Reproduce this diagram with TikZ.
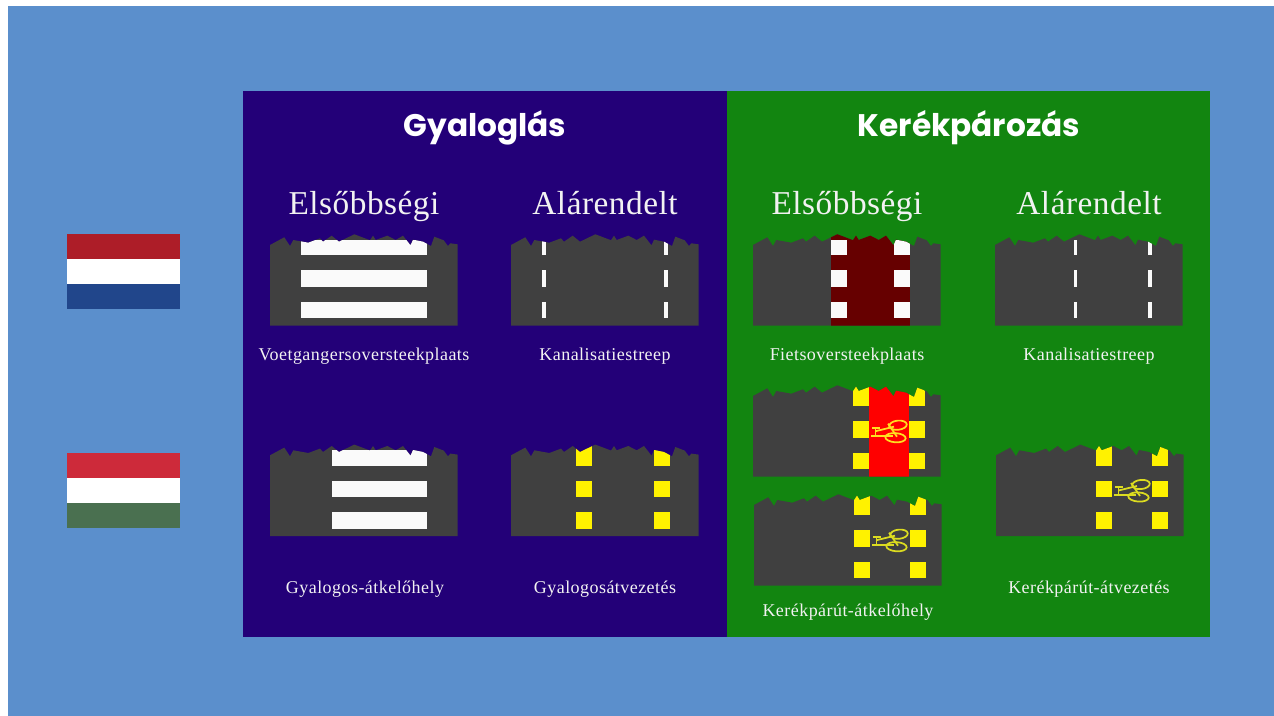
\documentclass[tikz,border=0pt]{standalone}
\usepackage{fontspec}
\setmainfont{Liberation Serif}
\newfontfamily\titlefont{Poppins}
\newfontfamily\subfont[LetterSpace=1.5]{Liberation Serif}
\newfontfamily\labfont[LetterSpace=2.5]{Liberation Serif}
\definecolor{bgblue}{HTML}{5B8FCC}
\definecolor{panelblue}{HTML}{230078}
\definecolor{panelgreen}{HTML}{128510}
\definecolor{roadgrey}{HTML}{404040}
\definecolor{paint}{HTML}{FAFAFA}
\definecolor{nlred}{HTML}{AD1D28}
\definecolor{nlblue}{HTML}{21468B}
\definecolor{hured}{HTML}{CD2A3A}
\definecolor{hugreen}{HTML}{4A7050}
\definecolor{dkred}{HTML}{660000}
\definecolor{bikeA}{HTML}{FFDF20}
\definecolor{bikeB}{HTML}{DCDC20}
\tikzset{
  titletext/.style={text=white,anchor=base,font=\titlefont\bfseries\fontsize{23.4}{24}\selectfont,inner sep=0pt},
  subtext/.style={text=white!95!black,anchor=base,font=\subfont\fontsize{25}{24}\selectfont,inner sep=0pt},
  labeltext/.style={text=white!95!black,anchor=base,font=\labfont\fontsize{13.5}{14}\selectfont,inner sep=0pt},
  wmark/.style={fill=paint},
  ymark/.style={fill=yellow}
}
% road profile, local coordinates
\def\roadprofile{(0,0)--(0,80.7)--(14.3,88.4)--(20,79.7)--(23.3,85.7)--(38.3,83)--(50,87.4)--(53,84)--(61.7,90)--(69,84)--(84.3,91.4)--(100,85.5)--(103,90)--(105.7,85.7)--(117.3,90)--(125.7,85.7)--(133,90)--(140.5,80.4)--(143,86)--(153,84)--(161,79.7)--(164.3,89)--(173.7,85.4)--(178,79.7)--(180.3,82.4)--(187.5,81.4)--(187.5,0)--cycle}
% #1 left, #2 bottom, #3 contents
\newcommand{\road}[3]{%
  \begin{scope}[shift={(#1,#2)},y=0.75pt]
    \fill[roadgrey] \roadprofile;
    \begin{scope}
      \clip \roadprofile;
      #3
    \end{scope}
  \end{scope}}
% three marks in a column: style, x0, x1, top height
\newcommand{\roadmarks}[4]{%
  \fill[#1] (#2,7.4) rectangle (#3,23.7);
  \fill[#1] (#2,39) rectangle (#3,55.4);
  \fill[#1] (#2,70.4) rectangle (#3,#4);}
\newcommand{\cyclesym}[1]{%
  \begin{scope}[draw=#1,line width=1.3pt]
    \draw[rotate around={6:(145,51.5)}] (145,51.5) ellipse [x radius=8.8,y radius=4.6];
    \draw[rotate around={-4:(142.5,39)}] (142.5,39) ellipse [x radius=10.2,y radius=4.6];
    \draw (119,49)--(127,49);
    \draw (118,41)--(140,41);
    \draw (122.5,49)--(122.5,41);
    \draw (122.5,45.5)--(141,50);
    \draw (135,53)--(144,40);
  \end{scope}}
\begin{document}
\begin{tikzpicture}[x=0.75pt,y=-0.75pt]
\useasboundingbox (0,0) rectangle (1274,716);
\fill[white] (0,0) rectangle (1274,716);
\fill[bgblue] (8,6) rectangle (1274,716);
\fill[panelblue] (243,91.5) rectangle (726.5,636.5);
\fill[panelgreen] (726.5,91.5) rectangle (1210,636.5);
% flags
\fill[nlred] (66.5,234.3) rectangle (179.5,259.3);
\fill[white] (66.5,259.3) rectangle (179.5,284.3);
\fill[nlblue] (66.5,284.3) rectangle (179.5,309.3);
\fill[hured] (66.5,453) rectangle (179.5,478);
\fill[white] (66.5,478) rectangle (179.5,503);
\fill[hugreen] (66.5,503) rectangle (179.5,528);
% titles
\node[titletext] (t1) at (485,136.5) {Gyaloglás};
\node[titletext] (t2) at (969,136.5) {Kerékpározás};
\node[subtext] (s1) at (364,214.5) {Elsőbbségi};
\node[subtext] (s2) at (605,214.5) {Alárendelt};
\node[subtext] (s3) at (847,214.5) {Elsőbbségi};
\node[subtext] (s4) at (1089,214.5) {Alárendelt};
% row 1
\road{270}{325.7}{\roadmarks{wmark}{31}{156.7}{85.7}}
\road{511}{325.7}{\roadmarks{wmark}{31}{34.7}{85.7}\roadmarks{wmark}{153}{156.7}{85.7}}
\road{753}{325.7}{\fill[dkred] (78,0) rectangle (156.7,95);\roadmarks{wmark}{78}{94}{85.7}\roadmarks{wmark}{140.7}{156.7}{85.7}}
\road{995}{325.7}{\roadmarks{wmark}{78.5}{82}{85.7}\roadmarks{wmark}{153}{156.5}{85.7}}
% row 2
\road{270}{536}{\roadmarks{wmark}{62}{156.7}{85.7}}
\road{511}{536}{\roadmarks{ymark}{65}{81}{92}\roadmarks{ymark}{143}{159}{92}}
\road{753}{476.7}{\fill[red] (116,0) rectangle (156.3,95);\roadmarks{ymark}{100.3}{116}{92}\roadmarks{ymark}{156.3}{172}{92}\cyclesym{bikeA}}
\road{754}{585.7}{\roadmarks{ymark}{100.3}{116}{92}\roadmarks{ymark}{156.3}{172}{92}\cyclesym{bikeB}}
\road{996}{536}{\roadmarks{ymark}{100.3}{116}{92}\roadmarks{ymark}{156.3}{172}{92}\cyclesym{bikeB}}
% labels
\node[labeltext] (l1) at (364,361) {Voetgangersoversteekplaats};
\node[labeltext] (l2) at (605,361) {Kanalisatiestreep};
\node[labeltext] (l3) at (847,361) {Fietsoversteekplaats};
\node[labeltext] (l4) at (1089,361) {Kanalisatiestreep};
\node[labeltext] (l5) at (365,593) {Gyalogos-átkelőhely};
\node[labeltext] (l6) at (605,593) {Gyalogosátvezetés};
\node[labeltext] (l7) at (848,616) {Kerékpárút-átkelőhely};
\node[labeltext] (l8) at (1089,593) {Kerékpárút-átvezetés};
\end{tikzpicture}
\end{document}
